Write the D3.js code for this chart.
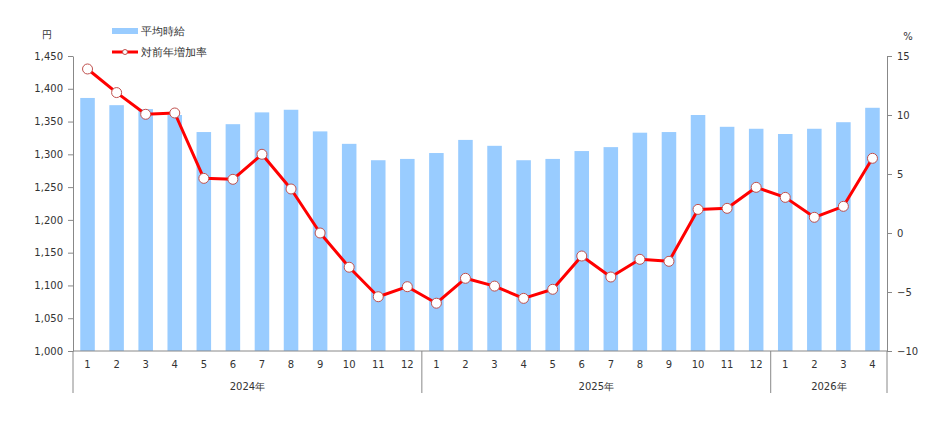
<!DOCTYPE html>
<html><head><meta charset="utf-8">
<script src="https://cdn.jsdelivr.net/npm/d3@7"></script>
<style>
body{margin:0;background:#fff;}
text{font-family:"DejaVu Sans",Verdana,sans-serif;fill:#333;}
</style></head>
<body><svg id="c" width="937" height="426"></svg>
<script>
const years = ["2024年","2025年","2026年"];
const monthsPerYear = [12,12,4];
const monthLabels = ["1","2","3","4","5","6","7","8","9","10","11","12","1","2","3","4","5","6","7","8","9","10","11","12","1","2","3","4"];
const wages = [1386,1375,1369,1360,1334,1346,1364,1368,1335,1316,1291,1293,1302,1322,1313,1291,1293,1305,1311,1333,1334,1360,1342,1339,1331,1339,1349,1371];
const growth = [13.9,11.9,10.06,10.17,4.63,4.55,6.67,3.73,0.0,-2.9,-5.4,-4.55,-5.95,-3.84,-4.5,-5.54,-4.77,-1.95,-3.73,-2.23,-2.4,2.0,2.09,3.87,3.02,1.33,2.26,6.33];
const leftTicks = [1000,1050,1100,1150,1200,1250,1300,1350,1400,1450];
const rightTicks = [-10,-5,0,5,10,15];

const svg = d3.select("#c");
const L = 73, R = 887, T = 56, B = 351;
const idx = d3.range(wages.length);
const x = d3.scaleBand().domain(idx).range([L,R]).paddingInner(0.5).paddingOuter(0.25);
const yL = d3.scaleLinear().domain([1000,1450]).range([B,T]);
const yR = d3.scaleLinear().domain([-10,15]).range([B,T]);
const axisColor = "#888";

// bars
svg.append("g").selectAll("rect").data(idx).join("rect")
  .attr("x", i => x(i)).attr("width", x.bandwidth())
  .attr("y", i => yL(wages[i])).attr("height", i => yL(1000) - yL(wages[i]))
  .attr("fill", "#99ccff");

// left axis
const gl = svg.append("g").attr("transform", `translate(${L},0)`)
  .call(d3.axisLeft(yL).tickValues(leftTicks).tickFormat(d3.format(",")).tickSize(5).tickPadding(5).tickSizeOuter(0));
gl.selectAll("path,line").attr("stroke", axisColor);
gl.selectAll("text").style("font-size","10px").attr("fill","#333");

// right axis
const gr = svg.append("g").attr("transform", `translate(${R},0)`)
  .call(d3.axisRight(yR).tickValues(rightTicks).tickSize(5).tickPadding(5).tickSizeOuter(0));
gr.selectAll("path,line").attr("stroke", axisColor);
gr.selectAll("text").style("font-size","10px").attr("fill","#333");

svg.append("text").attr("x",47).attr("y",38).attr("text-anchor","middle").style("font-size","10px").text("円");
svg.append("text").attr("x",908).attr("y",40).attr("text-anchor","middle").style("font-size","10px").text("%");

// x axis baseline
svg.append("line").attr("x1",L).attr("x2",R).attr("y1",B).attr("y2",B).attr("stroke",axisColor);
// month labels
svg.append("g").selectAll("text").data(idx).join("text")
  .attr("x", i => x(i) + x.bandwidth()/2).attr("y", 368)
  .attr("text-anchor","middle").style("font-size","10px").text(i => monthLabels[i]);
// year groups
let start = 0;
const step = x.step();
const bounds = [L];
monthsPerYear.forEach((n,k) => {
  const i0 = start, i1 = start + n - 1;
  const xa = k === 0 ? L : x(i0) - step*0.25;
  const xb = k === monthsPerYear.length-1 ? R : x(i1) + x.bandwidth() + step*0.25;
  bounds.push(xb);
  svg.append("text").attr("x",(xa+xb)/2).attr("y",390).attr("text-anchor","middle")
    .style("font-size","10px").text(years[k]);
  start += n;
});
svg.append("g").selectAll("line").data(bounds).join("line")
  .attr("x1",d=>d).attr("x2",d=>d).attr("y1",B).attr("y2",393).attr("stroke",axisColor);

// line
const line = d3.line().x(i => x(i)+x.bandwidth()/2).y(i => yR(growth[i]));
svg.append("path").datum(idx).attr("d", line).attr("fill","none")
  .attr("stroke","#ff0000").attr("stroke-width",3).attr("stroke-linejoin","round");
svg.append("g").selectAll("circle").data(idx).join("circle")
  .attr("cx", i => x(i)+x.bandwidth()/2).attr("cy", i => yR(growth[i])).attr("r",5)
  .attr("fill","#fff").attr("stroke","#c0504d").attr("stroke-width",1);

// legend
svg.append("rect").attr("x",112).attr("y",28).attr("width",26).attr("height",6).attr("fill","#99ccff");
svg.append("text").attr("x",141).attr("y",35).style("font-size","11px").text("平均時給");
svg.append("line").attr("x1",112).attr("x2",138).attr("y1",52).attr("y2",52).attr("stroke","#ff0000").attr("stroke-width",3);
svg.append("circle").attr("cx",125).attr("cy",52).attr("r",2.5).attr("fill","#fff").attr("stroke","#c0504d").attr("stroke-width",1);
svg.append("text").attr("x",141).attr("y",56).style("font-size","11px").text("対前年増加率");
</script></body></html>
